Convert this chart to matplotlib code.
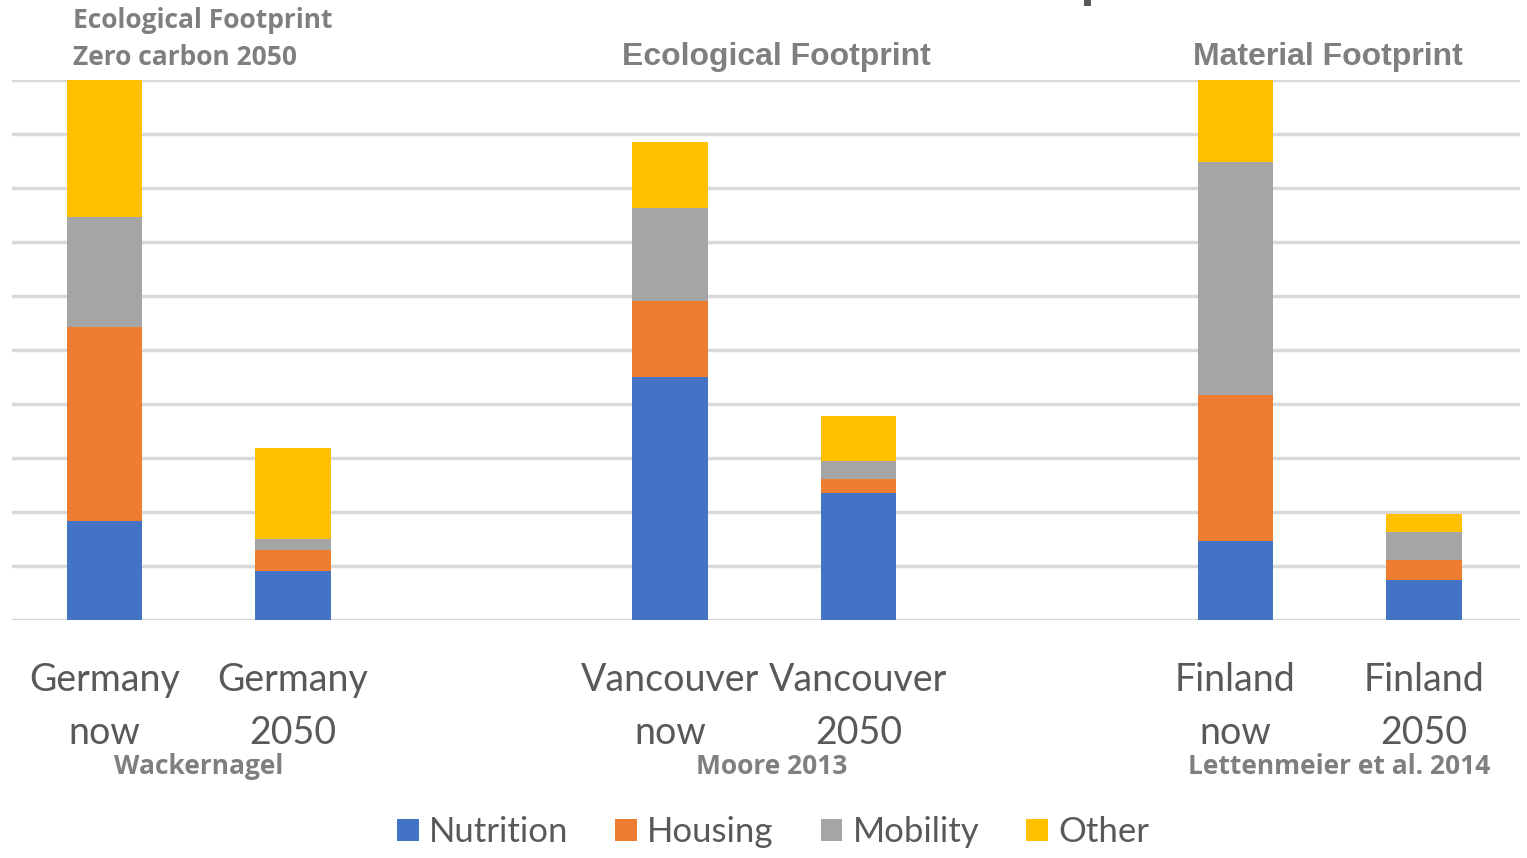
import matplotlib
matplotlib.use("Agg")
import matplotlib.pyplot as plt
from matplotlib.patches import Patch, Rectangle
import matplotlib.transforms as mtransforms
import numpy as np

categories = ["Germany\nnow", "Germany\n2050", "Vancouver\nnow", "Vancouver\n2050",
              "Finland\nnow", "Finland\n2050"]
series_names = ["Nutrition", "Housing", "Mobility", "Other"]
nutrition = [1.83, 0.91, 4.50, 2.35, 1.46, 0.74]
housing = [3.60, 0.39, 1.41, 0.26, 2.71, 0.37]
mobility = [2.03, 0.20, 1.72, 0.33, 4.31, 0.52]
other = [2.54, 1.69, 1.22, 0.84, 1.52, 0.33]
positions = [0, 1, 3, 4, 6, 7]
group_titles = ["Ecological Footprint\nZero carbon 2050", "Ecological Footprint", "Material Footprint"]
sources = ["Wackernagel", "Moore 2013", "Lettenmeier et al. 2014"]
source_x = [0.5, 3.54, 6.55]

colors = ["#4472C4", "#ED7D31", "#A5A5A5", "#FFC000"]
W, H = 1527, 858
fig = plt.figure(figsize=(W / 100, H / 100), dpi=100)
ax = fig.add_axes([12 / W, 1 - 620 / H, (1520 - 12) / W, (620 - 80) / H])

bottom = np.zeros(len(positions))
for vals, col in zip([nutrition, housing, mobility, other], colors):
    ax.bar(positions, vals, width=0.4, bottom=bottom, color=col, edgecolor="none", zorder=3)
    bottom += np.array(vals)

ax.set_xlim(-0.49, 7.51)
ax.set_ylim(0, 10)
ax.set_yticks(np.arange(0, 11, 1))
ax.yaxis.grid(True, color="#D9D9D9", linewidth=2.5, zorder=0)
ax.set_axisbelow(True)
for s in ax.spines.values():
    s.set_visible(False)
ax.tick_params(axis="y", length=0, labelleft=False)
ax.tick_params(axis="x", length=0, pad=30)
ax.set_xticks(positions)
ax.set_xticklabels(categories, fontsize=27, color="#595959", family="Lato", linespacing=1.6)

gray = "#7F7F7F"
# group titles
fig.text(73 / W, 1 - 39 / H, group_titles[0], ha="left", va="center", fontsize=19,
         fontweight="bold", color=gray, family="Open Sans", linespacing=1.45)
fig.text(776 / W, 1 - 57 / H, group_titles[1], ha="center", va="center", fontsize=23,
         fontweight="bold", color=gray, family="Liberation Sans")
fig.text(1328 / W, 1 - 57 / H, group_titles[2], ha="center", va="center", fontsize=23,
         fontweight="bold", color=gray, family="Liberation Sans")

# sources
src_tr = mtransforms.blended_transform_factory(ax.transData, fig.transFigure)
for sx, st in zip(source_x, sources):
    ax.text(sx, 1 - 766 / H, st, transform=src_tr, ha="center", va="center",
            fontsize=19, fontweight="bold", color=gray, family="Open Sans")

# cut-off fragment of a title at the top edge
fig.patches.append(Rectangle((1084 / W, 1 - 6 / H), 7 / W, 6 / H, transform=fig.transFigure,
                             facecolor="#595959", edgecolor="none"))

handles = [Patch(facecolor=c, edgecolor="none") for c in colors]
leg = fig.legend(handles, series_names, loc="center", bbox_to_anchor=(773 / W, 1 - 832 / H),
                 ncol=4, frameon=False, handlelength=0.62, handleheight=0.62,
                 handletextpad=0.3, columnspacing=1.35, prop={"family": "Lato", "size": 25})
for t in leg.get_texts():
    t.set_color("#595959")

fig.savefig("out.png", dpi=100, facecolor="white")
